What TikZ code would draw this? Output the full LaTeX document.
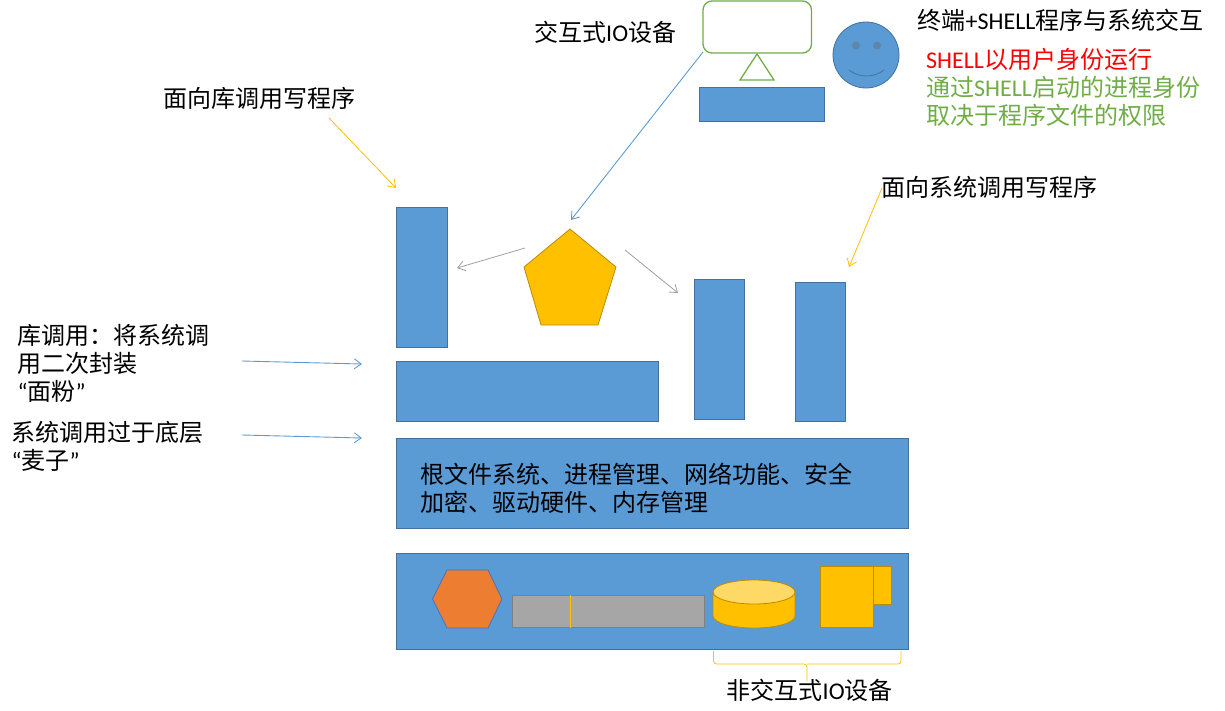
\documentclass[tikz,border=0pt]{standalone}
\usepackage{fontspec}
\setmainfont{Carlito}
\newfontfamily\cjk{Noto Sans CJK SC}
\usetikzlibrary{arrows.meta,calc}
\definecolor{boxblue}{HTML}{5B9BD5}
\definecolor{boxedge}{HTML}{41719C}
\definecolor{gold}{HTML}{FFC000}
\definecolor{goldedge}{HTML}{BC8C00}
\definecolor{goldlight}{HTML}{FFD966}
\definecolor{leaf}{HTML}{70AD47}
\definecolor{hexorange}{HTML}{ED7D31}
\definecolor{hexedge}{HTML}{4472C4}
\tikzset{
  bluebox/.style={draw=boxedge, fill=boxblue, line width=0.8pt},
  goldshape/.style={draw=goldedge, fill=gold, line width=0.8pt},
  label/.style={anchor=west, inner sep=0pt, align=left, font=\fontsize{24}{28}\selectfont},
  bluearrow/.style={draw=boxblue, line width=0.9pt, -{Straight Barb[length=7pt,width=10pt]}},
  goldarrow/.style={draw=gold, line width=0.8pt, -{Straight Barb[length=7pt,width=10pt]}},
  grayarrow/.style={draw=gray!75, line width=0.8pt, -{Straight Barb[length=7pt,width=10pt]}}
}
\begin{document}
\begin{tikzpicture}[x=1pt, y=-1pt]
  \useasboundingbox (0,0) rectangle (1225,710);
  % Blue blocks
  \foreach \name/\xa/\ya/\xb/\yb in {
    console/699/87/824.2/121.2, libapp/396/207/447.2/347.2, sysappa/694/279/744.2/419.2,
    sysappb/795/282/845.2/421.2, libc/396/361/658.2/421.2, kernel/396/438/908.2/528.2,
    hardware/396/553/908.2/649.2
  } {
    \draw[bluebox] (\xa,\ya) rectangle (\xb,\yb);
    \coordinate (\name) at ({(\xa+\xb)/2},{(\ya+\yb)/2});
  }
  % Terminal and user
  \draw[draw=leaf, line width=1.3pt, rounded corners=9pt, fill=white] (703,1) rectangle (811.5,53);
  \coordinate (monitor) at (703,52);
  \draw[draw=leaf, line width=1.3pt] (757,54) -- (774,80) -- (740,80) -- cycle;
  \draw[bluebox] (866,55) circle (33);
  \fill[boxedge!85] (856,45.5) circle (4) (877,45.5) circle (4);
  \draw[boxedge, line width=0.8pt] (849,70) .. controls (859,78) and (874,78) .. (884,70);
  % Process
  \draw[goldshape] (570,229) -- (616,267) -- (598,325) -- (541,325) -- (524,267) -- cycle;
  % Hardware parts
  \draw[draw=hexedge, fill=hexorange, line width=0.8pt]
    (432.5,599) -- (447,570) -- (488,570) -- (502,599) -- (488,628) -- (447,628) -- cycle;
  \draw[draw=gray, fill=gray!70, line width=0.8pt] (512,595) rectangle (704.2,627.5);
  \draw[gold, line width=0.6pt] (570,595) -- (570,627.5);
  \draw[goldshape] (713,592) -- (713,616) arc[start angle=180, end angle=0, x radius=41, y radius=12]
    -- (795,592) -- cycle;
  \draw[goldshape, fill=goldlight] (754,592) ellipse (41 and 12);
  \draw[goldshape] (873,566) rectangle (891.5,604);
  \draw[goldshape] (820,566) rectangle (873,627.5);
  % Brace
  \draw[gold, line width=0.8pt, rounded corners=3pt]
    (713.5,651) -- (713.5,664) -- (807,664) -- (807,681);
  \draw[gold, line width=0.8pt, rounded corners=3pt]
    (901,651) -- (901,664) -- (807,664);
  % Labels
  \node[label] (iolabel) at (534,32) {{\cjk 交互式}IO{\cjk 设备}};
  \node[label] (shelltitle) at (917.5,20) {{\cjk 终端}+SHELL{\cjk 程序与系统交互}};
  \node[label, text=red] (shellrun) at (926,59) {SHELL{\cjk 以用户身份运行}};
  \node[label, text=leaf] (shellnote) at (926,101) {{\cjk 通过}SHELL{\cjk 启动的进程身份}\\[0pt]{\cjk 取决于程序文件的权限}};
  \node[label] (liblabel) at (163.5,98) {{\cjk 面向库调用写程序}};
  \node[label] (syslabel) at (881.5,187) {{\cjk 面向系统调用写程序}};
  \node[label] (libnote) at (17.5,363) {{\cjk 库调用：将系统调}\\{\cjk 用二次封装}\\ “{\cjk 面粉}”};
  \node[label] (sysnote) at (11.5,446) {{\cjk 系统调用过于底层}\\“{\cjk 麦子}”};
  \node[label] (kernelnote) at (420.5,488) {{\cjk 根文件系统、进程管理、网络功能、安全}\\{\cjk 加密、驱动硬件、内存管理}};
  \node[label] (hwlabel) at (726.5,690) {{\cjk 非交互式}IO{\cjk 设备}};
  % Arrow ends
  \coordinate (libfrom) at (329,118);
  \coordinate (libto) at (396,188);
  \coordinate (sysfrom) at (882,188);
  \coordinate (systo) at (849,267);
  \coordinate (pentatop) at (571,220);
  \coordinate (pentaleft) at (525,248);
  \coordinate (libtip) at (457,268);
  \coordinate (pentaright) at (625,250);
  \coordinate (systip) at (678,293);
  \coordinate (notea) at (242,361);
  \coordinate (noteatip) at (362,364);
  \coordinate (noteb) at (242,435);
  \coordinate (notebtip) at (362,438);
  % Arrows
  \draw[goldarrow] (libfrom) -- (libto);
  \draw[goldarrow] (sysfrom) -- (systo);
  \draw[bluearrow] (monitor) -- (pentatop);
  \draw[grayarrow] (pentaleft) -- (libtip);
  \draw[grayarrow] (pentaright) -- (systip);
  \draw[bluearrow] (notea) -- (noteatip);
  \draw[bluearrow] (noteb) -- (notebtip);
\end{tikzpicture}
\end{document}
